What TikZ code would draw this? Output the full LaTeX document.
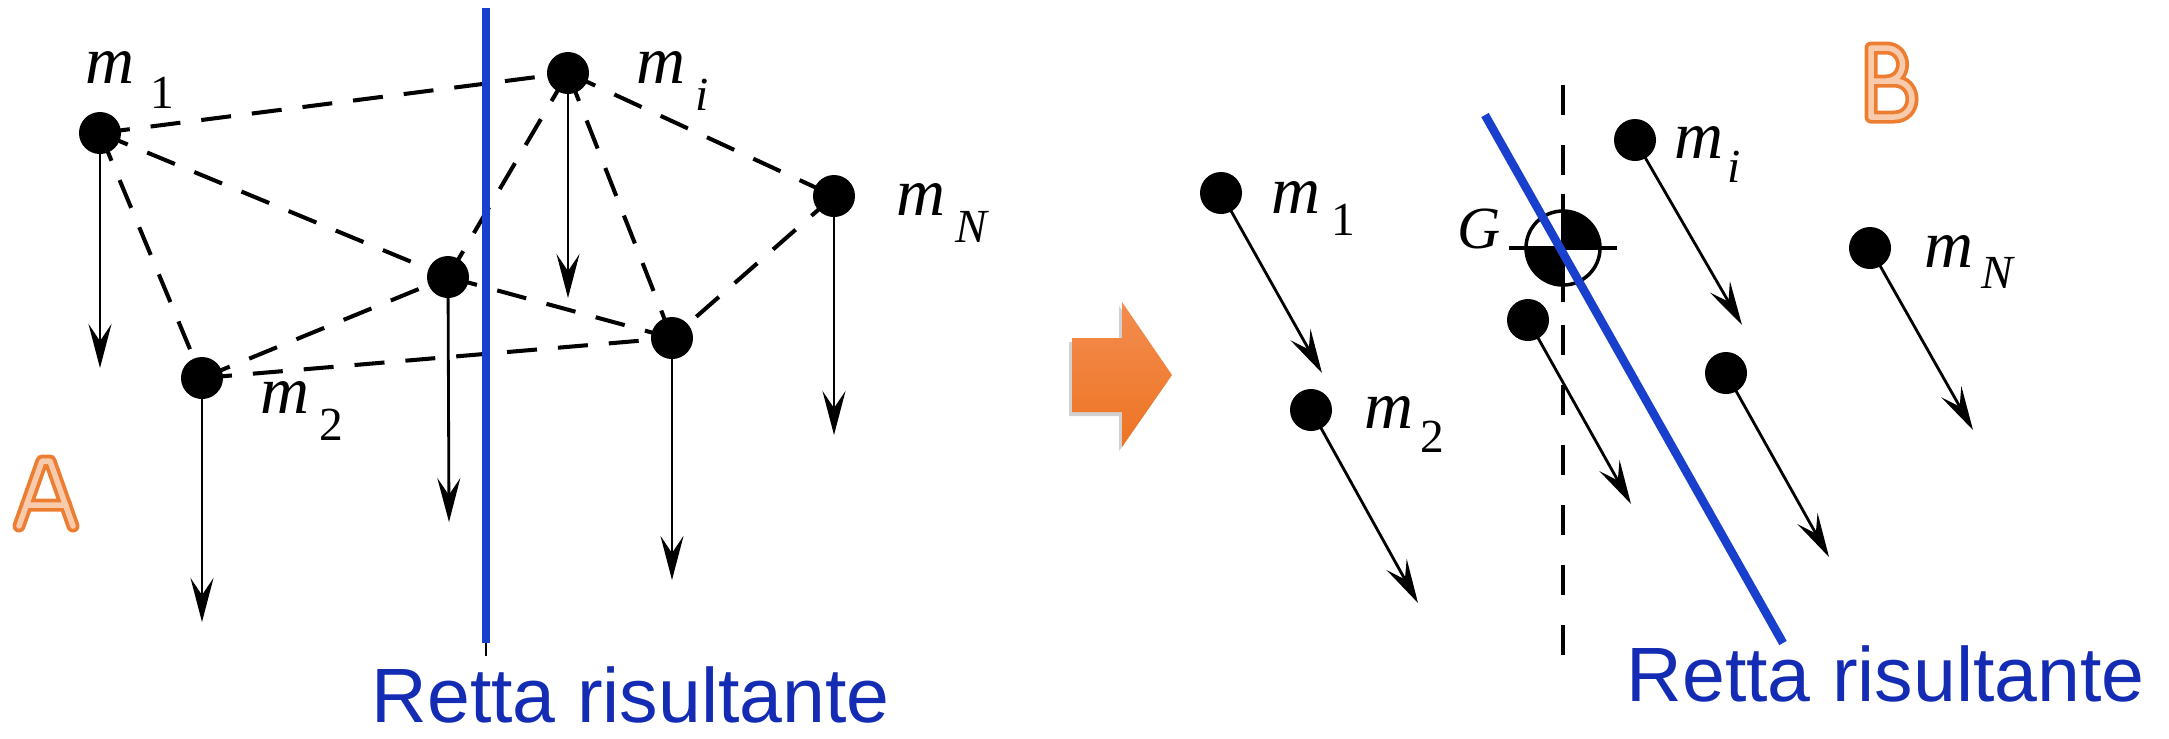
\documentclass[tikz,border=0pt]{standalone}
\usepackage{fontspec}
\setmainfont{Liberation Serif}
\newfontfamily\arialf{Liberation Sans}
\usetikzlibrary{arrows.meta}
\definecolor{lineblue}{RGB}{24,64,204}
\definecolor{textblue}{RGB}{20,44,180}
\definecolor{orangeline}{RGB}{237,125,49}
\definecolor{orangefill}{RGB}{248,203,173}
\definecolor{arrowtop}{RGB}{243,140,80}
\definecolor{arrowbot}{RGB}{238,116,34}
\newcommand{\mlab}[3]{\fontsize{19.3}{20}\selectfont\textit{m}\hspace{#2}\raisebox{#3}{\fontsize{13.5}{14}\selectfont #1}}
\begin{document}
\begin{tikzpicture}[x=0.01cm,y=-0.01cm,
  dot/.style={circle,fill=black,inner sep=0pt,minimum size=0.42cm},
  force/.style={line width=0.8pt,-{Stealth[length=0.44cm,width=0.23cm,inset=0.17cm]}},
  link/.style={line width=1.15pt,dash pattern=on 0.3cm off 0.21cm},
  axisline/.style={line width=0.9pt,dash pattern=on 0.3cm off 0.3cm},
  resline/.style={line width=0.085cm,draw=lineblue},
  restext/.style={text=textblue,font=\arialf\fontsize{21.9}{24}\selectfont,inner sep=0pt,anchor=base west},
  lab/.style={inner sep=0pt,anchor=base west},
  letter/.style={line width=0.13cm,draw=orangeline,line cap=round,line join=round},
  letterin/.style={line width=0.055cm,draw=orangefill,line cap=round,line join=round}
]
\useasboundingbox[fill=white] (0,0) rectangle (2169,738);

% ---------- Panel A ----------
\coordinate (A1) at (100,133);
\coordinate (A2) at (202,378);
\coordinate (A3) at (448,277);
\coordinate (Ai) at (568,73);
\coordinate (A4) at (672,338);
\coordinate (AN) at (834,196);
\coordinate (A1t) at (100,368);
\coordinate (A2t) at (202,622);
\coordinate (A3t) at (449,522);
\coordinate (Ait) at (568,298);
\coordinate (A4t) at (672,580);
\coordinate (ANt) at (834,435);

\draw[link] (A1) -- (Ai);
\draw[link] (A1) -- (A3);
\draw[link] (A1) -- (A2);
\draw[link] (A2) -- (A3);
\draw[link] (A2) -- (A4);
\draw[link] (A3) -- (Ai);
\draw[link] (A3) -- (A4);
\draw[link] (Ai) -- (A4);
\draw[link] (Ai) -- (AN);
\draw[link] (AN) -- (A4);

\foreach \n in {1,2,3,i,4,N}{\draw[force] (A\n) -- (A\n t);}
\foreach \n in {1,2,3,i,4,N}{\node[dot] (a\n) at (A\n) {};}

\coordinate (RAtop) at (486,8);
\coordinate (RAbot) at (486,643);
\coordinate (RAend) at (486,656);
\draw[line width=0.8pt] (RAbot) -- (RAend);
\draw[resline] (RAtop) -- (RAbot);

\node[lab] (la1) at (85,83) {\mlab{1}{0.16cm}{-0.25cm}};
\node[lab] (lai) at (636,83) {\mlab{\textit{i}}{0.1cm}{-0.27cm}};
\node[lab] (la2) at (260,413) {\mlab{2}{0.1cm}{-0.27cm}};
\node[lab] (laN) at (896,215) {\mlab{\textit{N}}{0.1cm}{-0.27cm}};

\node[restext] (ra) at (371,722) {Retta risultante};

% letter A
\draw[letter] (19,526) -- (42,461) -- (50,461) -- (73,526) (27,505) -- (66,505);
\draw[letterin] (19,526) -- (42,461) -- (50,461) -- (73,526) (27,505) -- (66,505);

% ---------- orange arrow ----------
\fill[black!40,opacity=0.45] (1069,342) -- (1119,342) -- (1119,306) -- (1169,379) -- (1119,451) -- (1119,416) -- (1069,416) -- cycle;
\shade[top color=arrowtop,bottom color=arrowbot] (1072,338) -- (1122,338) -- (1122,302) -- (1172,375) -- (1122,447) -- (1122,412) -- (1072,412) -- cycle;

% ---------- Panel B ----------
\coordinate (B1) at (1221,193);
\coordinate (B2) at (1311,410);
\coordinate (B3) at (1528,320);
\coordinate (Bi) at (1635,140);
\coordinate (B4) at (1726,373);
\coordinate (BN) at (1870,248);
\coordinate (B1t) at (1322,373);
\coordinate (B2t) at (1418,603);
\coordinate (B3t) at (1631,504);
\coordinate (Bit) at (1742,325);
\coordinate (B4t) at (1829,557);
\coordinate (BNt) at (1973,430);

\coordinate (VAtop) at (1563,85);
\coordinate (VAbot) at (1563,658);
\draw[axisline] (VAtop) -- (VAbot);

\coordinate (G) at (1563,248);
\begin{scope}
  \clip (G) circle[radius=0.37cm];
  \fill (G) rectangle (1610,200);
  \fill (G) rectangle (1516,296);
\end{scope}
\node[circle,draw,line width=1pt,inner sep=0pt,minimum size=0.74cm] (g) at (G) {};
\coordinate (GL) at (1509,248);
\coordinate (GR) at (1617,248);
\coordinate (GT) at (1563,194);
\coordinate (GB) at (1563,302);
\draw[line width=1pt] (GL) -- (GR);
\draw[line width=1pt] (GT) -- (GB);

\foreach \n in {1,2,3,i,4,N}{\draw[force] (B\n) -- (B\n t);}
\foreach \n in {1,2,3,i,4,N}{\node[dot] (b\n) at (B\n) {};}

\coordinate (RBtop) at (1485,115);
\coordinate (RBbot) at (1783,643);
\draw[resline] (RBtop) -- (RBbot);

\node[lab] (gl) at (1457,248) {\fontsize{17}{18}\selectfont\textit{G}};
\node[lab] (lb1) at (1271,213) {\mlab{1}{0.11cm}{-0.22cm}};
\node[lab] (lb2) at (1364,428) {\mlab{2}{0.07cm}{-0.24cm}};
\node[lab] (lbi) at (1674,158) {\mlab{\textit{i}}{0.04cm}{-0.24cm}};
\node[lab] (lbN) at (1924,267) {\mlab{\textit{N}}{0.08cm}{-0.21cm}};

\node[restext] (rb) at (1626,701) {Retta risultante};

% letter B
\draw[letter] (1871,117) -- (1871,48) -- (1886,48) .. controls (1908,48) and (1908,81) .. (1886,81) -- (1871,81)
  (1871,81) -- (1894,81) .. controls (1918,81) and (1918,117) .. (1894,117) -- (1871,117);
\draw[letterin] (1871,117) -- (1871,48) -- (1886,48) .. controls (1908,48) and (1908,81) .. (1886,81) -- (1871,81)
  (1871,81) -- (1894,81) .. controls (1918,81) and (1918,117) .. (1894,117) -- (1871,117);
\end{tikzpicture}
\end{document}
